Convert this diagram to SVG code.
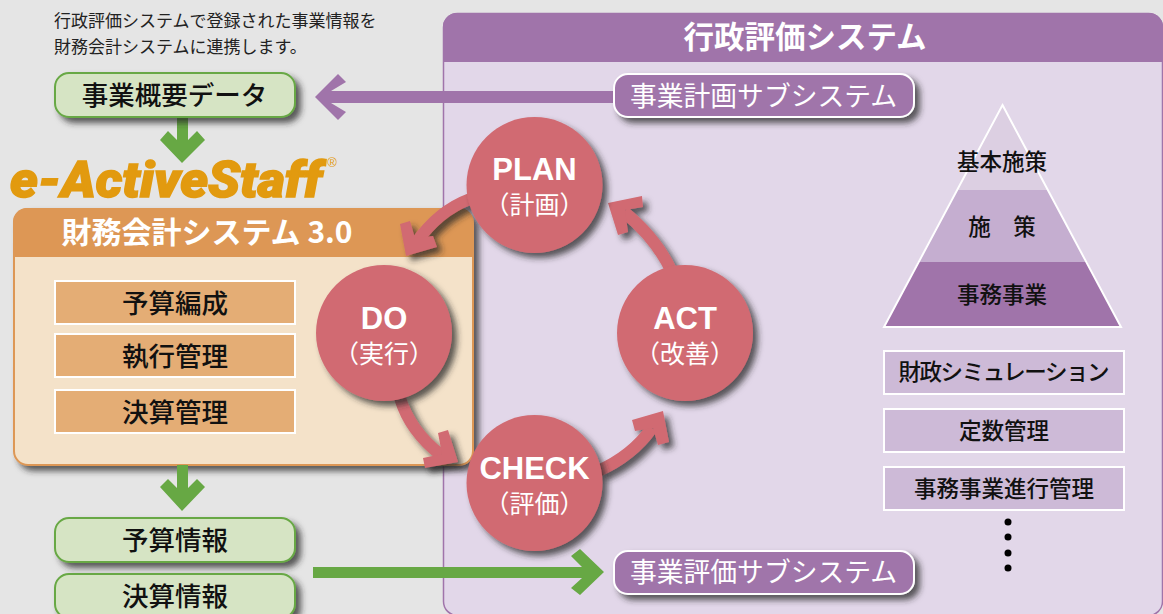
<svg xmlns="http://www.w3.org/2000/svg" width="1163" height="614" viewBox="0 0 1163 614">
<style>
text{font-family:"Noto Sans CJK JP","Noto Sans",sans-serif;text-anchor:middle}
.sh{filter:url(#ds)}
.note{font-size:17px;fill:#222;text-anchor:start}
.gbox{fill:#d6e4c4;stroke:#67a844;stroke-width:2}
.gt{font-size:26.5px;fill:#111;font-weight:500}
.obox{fill:#e4ad75;stroke:#fff;stroke-width:2}
.pbox{fill:#cdbad7;stroke:#fff;stroke-width:2}
.pt{font-size:22.5px;fill:#111;font-weight:500}
.sub{fill:#a074aa;stroke:#fff;stroke-width:2}
.subt{font-size:26.8px;fill:#fff}
.c{fill:#d16a72}
.cl{font-family:"Liberation Sans",Arial,sans-serif;font-weight:700;font-size:31px;fill:#fff}
.cs{font-size:25px;fill:#fff}
.sf{fill:none;stroke:#d16a72;stroke-width:12}
.hd{fill:#d16a72}
.gr{fill:#67a844}
.pu{fill:#a074aa}
</style>
<defs>
<filter id="ds" x="-20%" y="-20%" width="150%" height="150%"><feDropShadow dx="5" dy="5" stdDeviation="3" flood-color="#2c2c2c" flood-opacity="0.75"/></filter>
<clipPath id="hdp"><rect x="443" y="13" width="720" height="49"/></clipPath>
<clipPath id="hdo"><rect x="13" y="208" width="460" height="49"/></clipPath>
</defs>
<rect width="1163" height="614" fill="#e5e5e5"/>

<g id="note">
<text class="note" x="54" y="27">行政評価システムで登録された事業情報を</text>
<text class="note" x="54" y="53">財務会計システムに連携します。</text>
</g>

<g id="panel-gyosei">
<rect x="443.5" y="13.5" width="719" height="602" rx="14" fill="#e2d7e9" stroke="#a074aa" stroke-width="1.5"/>
<rect x="443" y="13" width="720" height="80" rx="14" fill="#a074aa" clip-path="url(#hdp)"/>
<text x="805" y="48" font-size="30.5" font-weight="700" fill="#fff">行政評価システム</text>
</g>

<g id="panel-zaimu">
<g class="sh"><rect x="14" y="209" width="459" height="256" rx="14" fill="#f4e2c9" stroke="#dd9755" stroke-width="2"/></g>
<rect x="13" y="208" width="460" height="80" rx="14" fill="#dd9755" clip-path="url(#hdo)"/>
<text x="207" y="243" font-size="30" font-weight="700" fill="#fff">財務会計システム 3.0</text>
</g>

<g id="logo">
<text x="10" y="197" font-size="50" font-weight="900" font-style="italic" fill="#e29a0f" stroke="#e29a0f" stroke-width="1.5" style="font-family:Roboto,'Liberation Sans',sans-serif;text-anchor:start" textLength="312" lengthAdjust="spacingAndGlyphs">e-ActiveStaff</text>
<text x="332" y="167" font-size="13" fill="#e29a0f" style="font-family:'Liberation Sans',sans-serif">®</text>
</g>

<g id="connectors">
<polygon class="pu" points="315,97 338,74 346,82 331,91 613,91 613,103 331,103 346,112 338,120"/>
<polygon class="gr" points="177,117 177,140 168,131 160,140 182,163 205,140 197,131 188,140 188,117"/>
<polygon class="gr" points="177,465 177,488 168,479 160,487 182,511 205,487 197,479 188,488 188,465"/>
<polygon class="gr" points="313,567 582,567 571,556 580,549 604,572 580,595 571,588 582,578 313,578"/>
<g class="sh"><path class="sf" d="M470,199 Q438,211 416,243"/><polygon class="hd" points="400,224 410,221 415,238 433,236 437,247 406,256"/></g>
<g class="sh"><path class="sf" d="M400,398 Q410,431 441,455"/><polygon class="hd" points="438,433 448,430 458,462 425,468 423,458 442,454"/></g>
<g class="sh"><path class="sf" d="M598,471 Q632,456 652,428"/><polygon class="hd" points="632,420 663,411 669,442 658,445 653,428 635,431"/></g>
<g class="sh"><path class="sf" d="M671,270 Q655,237 624,212"/><polygon class="hd" points="608,203 642,196 643,207 625,210 628,232 618,235"/></g>
</g>

<g id="n-gaiyo"><rect class="gbox sh" x="55" y="73" width="240" height="44" rx="14"/><text class="gt" x="174.5" y="105">事業概要データ</text></g>
<g id="n-yosan-info"><rect class="gbox sh" x="55" y="518" width="240" height="44" rx="14"/><text class="gt" x="175" y="550">予算情報</text></g>
<g id="n-kessan-info"><rect class="gbox sh" x="55" y="574" width="240" height="44" rx="14"/><text class="gt" x="175" y="606">決算情報</text></g>

<g id="n-yosan"><rect class="obox" x="55" y="281" width="240" height="43"/><text class="gt" x="175" y="313">予算編成</text></g>
<g id="n-shikko"><rect class="obox" x="55" y="334" width="240" height="43"/><text class="gt" x="175" y="366">執行管理</text></g>
<g id="n-kessan"><rect class="obox" x="55" y="390" width="240" height="43"/><text class="gt" x="175" y="422">決算管理</text></g>

<g id="n-keikaku"><rect class="sub sh" x="614" y="74" width="300" height="43" rx="14"/><text class="subt" x="763.5" y="106">事業計画サブシステム</text></g>
<g id="n-hyoka"><rect class="sub sh" x="614" y="551" width="300" height="43" rx="14"/><text class="subt" x="763.5" y="582">事業評価サブシステム</text></g>

<g id="n-plan"><circle class="c sh" cx="534.5" cy="185" r="68"/><text class="cl" x="534.5" y="180">PLAN</text><text class="cs" x="534.5" y="214">（計画）</text></g>
<g id="n-do"><circle class="c sh" cx="384" cy="333" r="68"/><text class="cl" x="384" y="329">DO</text><text class="cs" x="384" y="363">（実行）</text></g>
<g id="n-check"><circle class="c sh" cx="534.5" cy="483" r="68"/><text class="cl" x="534.5" y="479">CHECK</text><text class="cs" x="534.5" y="513">（評価）</text></g>
<g id="n-act"><circle class="c sh" cx="685" cy="333" r="68"/><text class="cl" x="685" y="329">ACT</text><text class="cs" x="685" y="363">（改善）</text></g>

<g id="n-pyramid">
<polygon points="1002.5,105 1048.5,190 956.5,190" fill="#dccfe2"/>
<polygon points="956.5,190 1048.5,190 1087,262 918,262" fill="#c5aed0"/>
<polygon points="918,262 1087,262 1121,327 884,327" fill="#a074aa"/>
<polygon points="1002.5,105 1121,327 884,327" fill="none" stroke="#fff" stroke-width="2"/>
<text class="pt" x="1002" y="170">基本施策</text>
<text class="pt" x="1002" y="235">施　策</text>
<text class="pt" x="1002" y="303">事務事業</text>
</g>

<g id="n-zaisei"><rect class="pbox" x="884" y="351" width="240" height="43"/><text class="pt" x="1004" y="380" textLength="211">財政シミュレーション</text></g>
<g id="n-teisu"><rect class="pbox" x="884" y="409" width="240" height="43"/><text class="pt" x="1004" y="439">定数管理</text></g>
<g id="n-jimu"><rect class="pbox" x="884" y="467" width="240" height="43"/><text class="pt" x="1004" y="497">事務事業進行管理</text></g>
<g id="dots" fill="#000"><circle cx="1008" cy="522" r="3.5"/><circle cx="1008" cy="537" r="3.5"/><circle cx="1008" cy="553" r="3.5"/><circle cx="1008" cy="568" r="3.5"/></g>
</svg>
